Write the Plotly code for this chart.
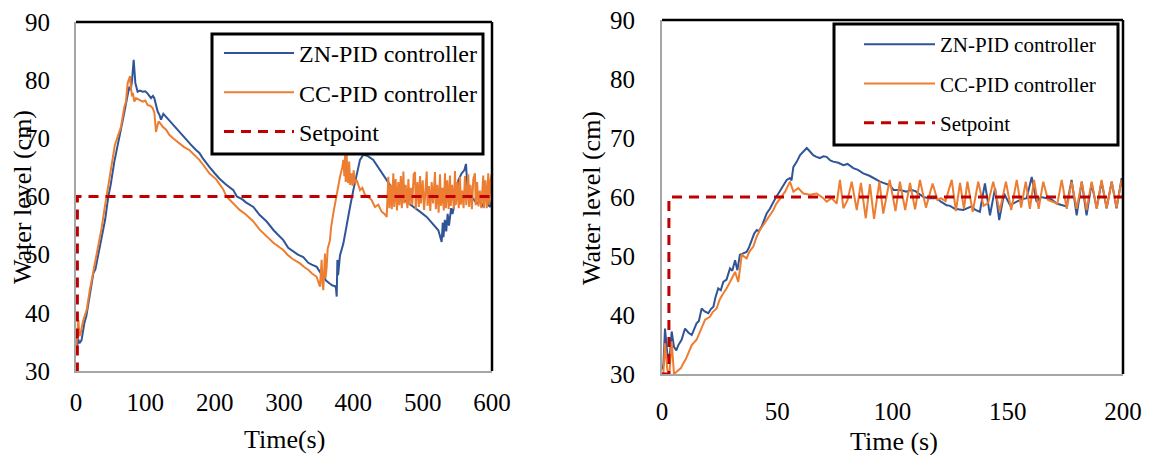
import plotly.graph_objects as go

# ---------------- data: left panel (0-600 s) ----------------
zn_left_t = [0, 1, 3, 5, 8, 12, 15, 18, 22, 25, 28, 31, 35, 38, 42, 46.6, 50, 55.3, 60, 62.5,
             67.3, 72.1, 76.9, 79, 80.8, 83.2, 85.6, 88.9, 92, 96.2, 100, 103.4, 108.2, 111, 113,
             117.8, 120.5, 122.6, 126, 132.2, 138, 144.2, 150, 155, 158.7, 165, 173.1, 178, 182.7,
             188, 192.3, 200, 206.7, 215, 226.9, 232, 240, 245, 255.8, 265, 275, 285, 290, 299,
             306, 313.4, 320, 327.8, 335, 340, 347.2, 352, 356.7, 361, 366.3, 370, 373.6, 375,
             376, 377, 378, 380.8, 385.6, 390.4, 395.2, 400, 404.8, 409.6, 414.4, 418, 421.6,
             428.8, 438.5, 448.1, 457.7, 467.3, 476.9, 486.5, 496.1, 505.8, 515.4, 522.6, 527.4,
             529, 530, 532, 534, 536, 538, 541, 543, 546.6, 549, 551.4, 556.2, 560, 562.5, 564.4,
             568.3, 573, 577.9, 583, 587.5, 590, 592.3, 595, 597.1, 600]
zn_left_v = [33.0, 33.6, 35.5, 34.8, 35.3, 38.2, 39.5, 41.6, 44.0, 46.8, 47.5, 49.3, 51.4, 53.2,
             56.0, 60.0, 62.0, 66.0, 68.5, 70.2, 73.0, 76.0, 78.9, 78.3, 80.0, 83.5, 79.5, 78.0,
             78.2, 78.0, 78.1, 77.7, 76.9, 77.3, 76.9, 74.6, 74.0, 73.2, 74.2, 73.4, 72.6, 71.7,
             70.9, 70.2, 69.7, 69.0, 68.0, 67.5, 66.6, 65.7, 65.1, 64.0, 63.1, 62.2, 61.1, 60.0,
             59.5, 59.0, 58.2, 56.8, 55.7, 54.2, 53.6, 52.5, 51.2, 50.5, 50.0, 49.6, 48.6, 48.3,
             47.9, 47.0, 46.2, 45.5, 45.0, 44.7, 44.6, 44.2, 42.8, 49.1, 46.5, 49.9, 51.9, 55.3,
             58.2, 61.1, 64.0, 66.3, 67.2, 67.0, 66.9, 66.3, 64.6, 62.8, 61.1, 59.9, 59.1, 58.2,
             57.4, 56.5, 55.1, 54.2, 52.2, 55.5, 53.0, 56.0, 54.0, 57.0, 55.0, 58.0, 57.0, 58.8,
             60.5, 62.8, 64.0, 64.5, 65.6, 61.8, 60.0, 59.6, 58.8, 59.2, 58.2, 60.5, 60.0, 58.5,
             58.2, 59.5]

cc_left_t = [0, 1, 2, 3.4, 5, 6.7, 10, 15.4, 20, 25, 29.8, 33, 37, 41, 44, 48, 52.9, 56, 60.1,
             64.9, 69.7, 72, 74.5, 77.9, 79, 80.8, 82, 84.1, 86.5, 91.3, 96.2, 100, 103.4, 107,
             110.6, 113, 115.4, 117, 119.2, 122, 125, 130, 134.6, 140, 149, 156, 163.5, 170,
             177.9, 185, 192.3, 201.9, 208, 212, 217, 222, 230, 236, 245, 255, 265, 275, 285, 299,
             305, 312, 323, 330, 335, 340, 347, 351.9, 354.3, 355.5, 356.7, 359.1, 360, 361.5,
             363, 366.3, 368, 371.1, 376, 380.8, 384, 385.6, 387, 388, 389, 390.4, 391.5, 392.8,
             394, 395.5, 397.6, 399, 400.5, 402.4, 405, 409.6, 413, 416.8, 421, 426.4, 431.2, 436,
             440.8, 445, 448.1,
             450.5, 452, 454, 455.5, 457.7, 459, 461, 463, 464.9, 466.5, 468.5, 470, 472.2, 473.5,
             475.5, 478, 479.4, 481, 483, 485, 487, 489, 490, 492.5, 494.5, 496.2, 497.5, 500,
             502, 503.5, 505.8, 507, 509, 511, 513, 515, 517.8, 519, 521, 523, 525, 526.5, 528.5,
             530.5, 532.2, 533.5, 535.5, 537.5, 539.4, 540.5, 542.5, 545, 546.6, 548, 550, 552,
             553.8, 555, 557, 559, 561, 563, 565.8, 567, 569, 571, 573, 575.4, 576.5, 578.5,
             580.5, 582.5, 584.5, 587.4, 588.5, 590.5, 592.5, 594.6, 596, 597.5, 599.4, 600]
cc_left_v = [33.5, 34.8, 37.0, 38.8, 36.0, 36.5, 38.5, 40.5, 44.0, 47.0, 50.2, 52.0, 54.6, 57.8,
             60.0, 62.5, 66.4, 68.8, 70.3, 72.0, 75.4, 76.3, 79.5, 80.7, 79.0, 77.2, 77.8, 76.3,
             76.9, 76.6, 76.3, 76.5, 75.7, 75.6, 75.2, 74.4, 71.1, 72.0, 72.9, 72.5, 72.0, 71.5,
             70.6, 70.0, 69.1, 68.5, 68.0, 67.2, 66.3, 65.2, 64.0, 63.0, 62.0, 61.3, 60.0, 59.4,
             58.6, 57.7, 56.9, 55.8, 54.3, 53.1, 52.0, 50.8, 50.0, 49.3, 48.5, 47.8, 47.4, 46.8,
             46.2, 44.5, 49.1, 45.0, 43.9, 50.2, 46.0, 47.8, 51.0, 52.5, 54.8, 57.1, 60.5, 63.4,
             65.0, 66.3, 63.5, 67.1, 62.5, 67.4, 63.0, 62.3, 66.0, 62.0, 64.0, 61.8, 64.5, 62.3,
             62.8, 61.1, 61.5, 60.3, 60.0, 59.4, 58.2, 58.6, 57.4, 57.0, 56.5,
             63.4, 58.0, 62.0, 57.8, 64.0, 58.2, 63.0, 57.6, 62.5, 58.5, 63.5, 58.0, 64.3, 58.8,
             62.0, 58.0, 63.0, 58.5, 61.5, 58.6, 63.8, 64.2, 57.8, 62.5, 58.2, 63.5, 58.8, 62.8,
             57.7, 60.0, 64.3, 58.4, 61.8, 57.5, 62.5, 58.8, 64.2, 57.8, 62.0, 57.2, 63.8, 58.4,
             61.5, 57.6, 64.0, 58.0, 62.8, 57.8, 63.6, 58.4, 62.0, 57.9, 64.4, 58.6, 62.5, 58.0,
             63.4, 58.6, 61.0, 58.0, 63.5, 58.5, 63.8, 58.2, 62.0, 57.8, 63.0, 64.0, 58.5, 62.5,
             58.3, 61.0, 58.0, 63.6, 58.0, 62.8, 58.0, 64.0, 58.6, 62.5, 63.8, 58.5]

sp_left_t = [0, 2, 2, 600]
sp_left_v = [30, 30, 60, 60]

# ---------------- data: right panel (0-200 s) ----------------
zn_right_t = [0, 0.6, 1.3, 2.3, 3.2, 4.2, 5.2, 6.2, 7.1, 8.5, 10, 11.5, 12.9, 14, 15, 16, 17.2,
              18.5, 20.1, 21.2, 22.3, 23.2, 24.4, 25.5, 26.6, 28, 29.5, 30.5, 31.7, 32.7, 33.8,
              35, 36.7, 37.8, 38.9, 40, 41.1, 42, 43.2, 44.3, 45.4, 46.8, 48.3, 49.5, 50.5, 51.5,
              52.6, 54.1, 55.5, 56.2, 57, 58.5, 59.9, 61.5, 62.8, 64, 65.6, 67, 68.5, 70, 71.4,
              73, 74.3, 76.5, 78.7, 80.5, 83, 85, 87.3, 90, 93.1, 94.6, 96, 98.9, 100.4, 103.3,
              106.1, 108, 110, 113.4, 116, 119.2, 121, 123.5, 125, 127, 130.7, 132.5, 134.3, 136,
              137.9, 140.1, 142.3, 144.5, 146.3, 148.4, 151, 153.9, 156, 158.2, 160.4, 162.5,
              164.5, 166.9, 169, 171.2, 173.5, 175.5, 177.7, 179.9, 182.1, 184.2, 186.4, 188.6,
              190.7, 192.9, 195.1, 197.2, 199.4, 200]
zn_right_v = [30.8, 31.5, 37.7, 33.5, 32.1, 37.2, 34.6, 34.0, 34.9, 35.8, 37.7, 37.0, 36.6, 37.6,
              38.6, 39.0, 41.1, 40.6, 40.3, 41.0, 41.4, 43.0, 44.5, 44.2, 45.6, 46.0, 47.9, 47.5,
              49.3, 47.6, 50.2, 50.4, 50.7, 51.5, 52.7, 53.8, 54.4, 54.2, 55.0, 56.0, 57.2, 58.0,
              59.2, 60.0, 60.6, 61.3, 61.9, 62.9, 63.2, 62.8, 65.1, 66.0, 67.1, 67.8, 68.3, 67.8,
              67.1, 66.8, 66.6, 66.9, 66.8, 66.2, 66.0, 65.8, 65.4, 65.6, 64.9, 64.6, 64.0, 63.6,
              62.9, 62.6, 62.4, 62.0, 61.2, 61.2, 60.9, 61.2, 61.0, 60.0, 59.8, 59.8, 59.2, 58.6,
              58.5, 58.0, 57.8, 58.1, 58.4, 57.8, 57.5, 62.3, 56.9, 61.5, 56.1, 60.6, 58.6, 59.2,
              59.6, 59.8, 63.4, 59.2, 60.0, 59.8, 59.6, 58.9, 58.6, 58.4, 62.9, 56.9, 62.6, 56.9,
              62.3, 58.1, 62.6, 58.1, 62.6, 58.1, 63.2, 62.0]

cc_right_t = [0, 0.6, 1.3, 2.3, 3.2, 4.2, 5.2, 7.1, 8.2, 9.2, 10.3, 11.4, 12.9, 15, 16.8, 18.7,
              20.8, 22, 23.7, 25, 26.6, 28, 29.5, 30.5, 31.7, 33.1, 34.6, 36.7, 38, 39.6, 41,
              42.5, 44, 45.4, 47, 48.3, 49.5, 51.2, 53.4, 55.5, 57, 59.1, 61.3, 64.2, 67.1, 70,
              71.4, 73.6, 75.8, 77.2, 78.7, 80.5, 82.3, 84.5, 86.3, 88.4, 90.2, 92, 94.3, 96,
              98.8, 101.3, 103.2, 105.5, 107.6, 109.8, 111.9, 114.5, 117.4, 119.5, 121, 123, 125.7,
              127.5, 129.3, 131, 132.5, 134.8, 137.2, 139.5, 141.5, 143.7, 146.5, 149.2, 151.5,
              153.9, 155.8, 157.8, 159.6, 161.4, 163.4, 165.4, 167.5, 169.5, 171.5, 173.4, 175.6,
              177.7, 179.9, 182.1, 184.2, 186.4, 188.6, 190.7, 192.9, 195.1, 197.2, 199.4, 200]
cc_right_v = [30.0, 30.1, 35.2, 30.7, 30.0, 35.5, 30.0, 30.6, 31.0, 31.8, 32.5, 33.5, 34.9, 35.8,
              37.6, 39.2, 39.7, 40.5, 41.1, 42.6, 43.7, 44.5, 45.6, 46.4, 47.3, 45.6, 50.2, 49.6,
              50.8, 51.6, 53.2, 54.4, 55.3, 56.1, 57.0, 57.8, 58.8, 59.8, 60.9, 62.6, 60.9, 61.5,
              60.6, 60.4, 60.6, 59.8, 59.2, 59.8, 58.9, 62.9, 58.1, 59.5, 62.6, 57.8, 62.4, 56.4,
              62.2, 56.3, 62.6, 57.2, 62.9, 57.6, 62.6, 57.8, 62.4, 57.9, 62.9, 58.2, 62.3, 59.5,
              59.8, 59.3, 62.9, 57.6, 62.4, 58.0, 62.6, 57.5, 62.6, 58.5, 59.0, 62.6, 57.6, 62.6,
              57.8, 62.9, 58.2, 62.6, 58.0, 62.9, 58.0, 62.6, 59.5, 59.2, 58.8, 62.9, 58.0, 62.6,
              58.0, 62.6, 57.8, 62.6, 58.0, 62.9, 58.1, 62.6, 58.2, 62.9, 61.5]

sp_right_t = [0, 3, 3, 200]
sp_right_v = [30, 30, 60, 60]

# ---------------- labels ----------------
series_names = ["ZN-PID controller", "CC-PID controller", "Setpoint"]
x_title_left = "Time(s)"
x_title_right = "Time (s)"
y_title = "Water level (cm)"
x_ticks_left = [0, 100, 200, 300, 400, 500, 600]
x_ticks_right = [0, 50, 100, 150, 200]
y_ticks = [30, 40, 50, 60, 70, 80, 90]

BLUE = "#2F5597"
ORANGE = "#ED7D31"
RED = "#C00000"
FONT = "Liberation Serif"
W, H = 1149, 455

fig = go.Figure()

def add_panel(xa, ya, leg, t1, v1, t2, v2, ts, vs):
    fig.add_trace(go.Scatter(x=t1, y=v1, mode="lines", name=series_names[0],
                             line=dict(color=BLUE, width=2), xaxis=xa, yaxis=ya,
                             legend=leg, legendgroup=leg + "a"))
    fig.add_trace(go.Scatter(x=t2, y=v2, mode="lines", name=series_names[1],
                             line=dict(color=ORANGE, width=2), xaxis=xa, yaxis=ya,
                             legend=leg, legendgroup=leg + "b"))
    fig.add_trace(go.Scatter(x=ts, y=vs, mode="lines", name=series_names[2],
                             line=dict(color=RED, width=3, dash="10px,7px"),
                             xaxis=xa, yaxis=ya, legend=leg, legendgroup=leg + "c"))

add_panel("x", "y", "legend", zn_left_t, zn_left_v, cc_left_t, cc_left_v, sp_left_t, sp_left_v)
add_panel("x2", "y2", "legend2", zn_right_t, zn_right_v, cc_right_t, cc_right_v, sp_right_t, sp_right_v)

def px_x(p):
    return p / W

def px_y(p):
    return (H - p) / H

axis_common = dict(showgrid=False, zeroline=False, showline=True, linecolor="#A6A6A6",
                   linewidth=2, ticks="", automargin=False,
                   tickfont=dict(family=FONT, size=25, color="black"))

fig.update_layout(
    width=W, height=H,
    margin=dict(l=0, r=0, t=0, b=0, autoexpand=False),
    paper_bgcolor="white", plot_bgcolor="white",
    font=dict(family=FONT, color="black"),
    showlegend=True,
    xaxis=dict(domain=[px_x(76), px_x(492)], range=[0, 600], tickvals=x_ticks_left,
               anchor="y", ticklabelstandoff=8, **axis_common),
    yaxis=dict(domain=[px_y(371), px_y(22)], range=[30, 90], tickvals=y_ticks,
               anchor="x", ticklabelstandoff=19, **axis_common),
    xaxis2=dict(domain=[px_x(662), px_x(1123)], range=[0, 200], tickvals=x_ticks_right,
                anchor="y2", ticklabelstandoff=14, **axis_common),
    yaxis2=dict(domain=[px_y(374), px_y(20)], range=[30, 90], tickvals=y_ticks,
                anchor="x2", ticklabelstandoff=20, **axis_common),
    legend=dict(x=px_x(219), y=px_y(31), xanchor="left", yanchor="top",
                borderwidth=0, bgcolor="rgba(0,0,0,0)",
                font=dict(family=FONT, size=24, color="black"),
                traceorder="grouped", tracegroupgap=5, itemwidth=70),
    legend2=dict(x=px_x(859), y=px_y(24), xanchor="left", yanchor="top",
                 borderwidth=0, bgcolor="rgba(0,0,0,0)",
                 font=dict(family=FONT, size=21, color="black"),
                 traceorder="grouped", tracegroupgap=9, itemwidth=71),
)

# legend frames (white boxes with thick black border)
for x0, y0, x1, y1 in ((212, 34, 483, 154), (834, 24, 1118, 145)):
    fig.add_shape(type="rect", xref="paper", yref="paper",
                  x0=px_x(x0), x1=px_x(x1), y0=px_y(y1), y1=px_y(y0),
                  line=dict(color="black", width=3), fillcolor="white", layer="above")

# black top/right frame of each plot area
for xr, yr in (("x domain", "y domain"), ("x2 domain", "y2 domain")):
    fig.add_shape(type="line", xref=xr, yref=yr, x0=0, x1=1, y0=1, y1=1,
                  line=dict(color="black", width=2.5))
    fig.add_shape(type="line", xref=xr, yref=yr, x0=1, x1=1, y0=0, y1=1,
                  line=dict(color="black", width=2.5))

# axis titles
ann = [
    dict(text=y_title, x=px_x(22), y=px_y(197), textangle=-90),
    dict(text=y_title, x=px_x(591), y=px_y(198), textangle=-90),
    dict(text=x_title_left, x=px_x(284), y=px_y(439), textangle=0),
    dict(text=x_title_right, x=px_x(894), y=px_y(441), textangle=0),
]
for a in ann:
    fig.add_annotation(text=a["text"], x=a["x"], y=a["y"], xref="paper", yref="paper",
                       xanchor="center", yanchor="middle", textangle=a["textangle"],
                       showarrow=False, font=dict(family=FONT, size=26, color="black"))

fig.write_html("out.html",
               config={"displayModeBar": False},
               post_script="document.body.style.margin='0px';"
                           "document.body.style.overflow='hidden';")
